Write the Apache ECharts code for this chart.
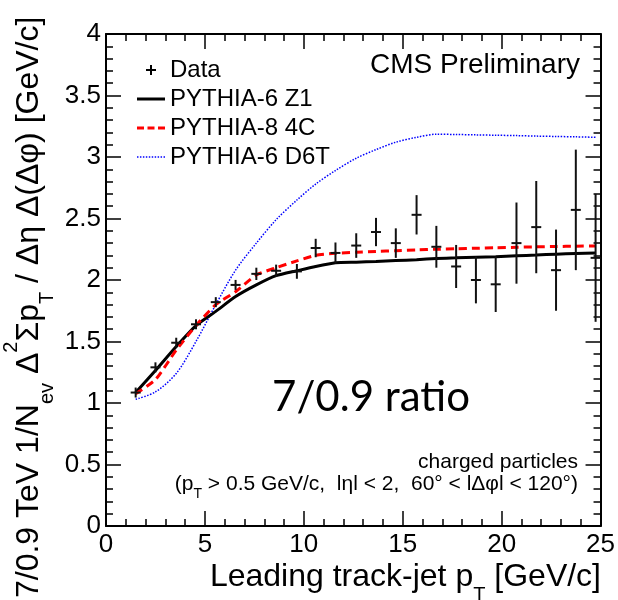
<!DOCTYPE html>
<html><head><meta charset="utf-8">
<script src="https://cdn.jsdelivr.net/npm/echarts@6/dist/echarts.min.js"></script>
<style>html,body{margin:0;padding:0;background:#fff}#c{width:618px;height:600px}</style>
</head><body><div id="c"></div>
<script>
// ---- data ----
const dataX   = [1.5, 2.5, 3.55, 4.55, 5.55, 6.55, 7.6, 8.6, 9.65, 10.6, 11.6, 12.65, 13.65, 14.65, 15.7, 16.7, 17.7, 18.7, 19.7, 20.75, 21.75, 22.75, 23.75, 24.75];
const dataY   = [1.085, 1.29, 1.49, 1.64, 1.82, 1.96, 2.05, 2.075, 2.07, 2.26, 2.22, 2.28, 2.39, 2.30, 2.53, 2.27, 2.11, 2.00, 1.965, 2.30, 2.43, 2.08, 2.57, 2.18];
const dataErr = [0.02, 0.025, 0.03, 0.03, 0.035, 0.04, 0.05, 0.05, 0.06, 0.075, 0.085, 0.10, 0.115, 0.12, 0.16, 0.17, 0.175, 0.19, 0.225, 0.33, 0.375, 0.33, 0.49, 0.52];
const z1Y     = [1.085, 1.265, 1.46, 1.63, 1.745, 1.865, 1.96, 2.035, 2.075, 2.11, 2.14, 2.145, 2.15, 2.158, 2.165, 2.175, 2.18, 2.185, 2.19, 2.197, 2.203, 2.21, 2.215, 2.22];
const c4Y     = [1.075, 1.19, 1.43, 1.63, 1.80, 1.905, 2.04, 2.10, 2.155, 2.20, 2.217, 2.225, 2.232, 2.238, 2.244, 2.25, 2.254, 2.258, 2.262, 2.266, 2.27, 2.272, 2.275, 2.277];
const d6tY    = [1.03, 1.09, 1.24, 1.50, 1.80, 2.08, 2.30, 2.49, 2.65, 2.78, 2.89, 2.99, 3.06, 3.12, 3.16, 3.185, 3.183, 3.18, 3.177, 3.174, 3.17, 3.167, 3.164, 3.16];
const seriesNames = ['Data', 'PYTHIA-6 Z1', 'PYTHIA-8 4C', 'PYTHIA-6 D6T'];

const FONT = '"Liberation Sans", Arial, Helvetica, sans-serif';
const chart = echarts.init(document.getElementById('c'), null, {renderer: 'canvas'});

const axisCommon = {
  axisLine: {show: true, onZero: false, lineStyle: {color: '#000', width: 2}},
  axisTick: {show: true, inside: true, length: 15, lineStyle: {color: '#000', width: 1.5}},
  minorTick: {show: true, splitNumber: 5, length: 7, lineStyle: {color: '#000', width: 1.5}},
  splitLine: {show: false},
  minorSplitLine: {show: false}
};

function renderErr(params, api) {
  const x = api.value(0), y = api.value(1), e = api.value(2);
  const c = api.coord([x, y]);
  const t = api.coord([x, y + e]);
  const b = api.coord([x, y - e]);
  const y1 = Math.min(t[1], c[1] - 5), y2 = Math.max(b[1], c[1] + 5);
  return {type: 'group', children: [
    {type: 'line', shape: {x1: c[0], y1: y1, x2: c[0], y2: y2}, style: {stroke: '#111', lineWidth: 2}},
    {type: 'line', shape: {x1: c[0] - 5, y1: c[1], x2: c[0] + 5, y2: c[1]}, style: {stroke: '#111', lineWidth: 2}}
  ]};
}

// legend icons (filled paths, aspect kept)
const iconPlus = 'path://M4,0h2v10h-2zM0,4h10v2h-10z';
const iconSolid = 'path://M0,0h28v3h-28z';
const iconDash = 'path://M0,0h7v3h-7zM10.5,0h7v3h-7zM21,0h7v3h-7z';
let dots = '';
for (let k = 0; k < 10; k++) dots += 'M' + (k * 3) + ',0h1.5v1.5h-1.5z';
const iconDot = 'path://' + dots;

const richMain = {
  m: {fontFamily: FONT, fontSize: 32, lineHeight: 56, color: '#000'},
  s: {fontFamily: FONT, fontSize: 20, lineHeight: 24, verticalAlign: 'bottom', color: '#000'},
  p: {fontFamily: FONT, fontSize: 20, lineHeight: 10, verticalAlign: 'top', color: '#000'}
};

const option = {
  animation: false,
  backgroundColor: '#fff',
  grid: {left: 106, right: 17, top: 34, bottom: 74, containLabel: false},
  xAxis: [
    Object.assign({type: 'value', min: 0, max: 25, interval: 5, position: 'bottom',
      axisLabel: {fontFamily: FONT, fontSize: 26, color: '#000', margin: 6, showMaxLabel: true, showMinLabel: true}}, axisCommon),
    Object.assign({type: 'value', min: 0, max: 25, interval: 5, position: 'top',
      axisLabel: {show: false}}, axisCommon)
  ],
  yAxis: [
    Object.assign({type: 'value', min: 0, max: 4, interval: 0.5, position: 'left',
      axisLabel: {fontFamily: FONT, fontSize: 26, color: '#000', margin: 5, showMaxLabel: true, showMinLabel: true}}, axisCommon),
    Object.assign({type: 'value', min: 0, max: 4, interval: 0.5, position: 'right',
      axisLabel: {show: false}}, axisCommon)
  ],
  legend: {
    orient: 'vertical', left: 137, top: 58, padding: 0,
    itemWidth: 28, itemHeight: 10, itemGap: 5, selectedMode: false,
    textStyle: {fontFamily: FONT, fontSize: 24, color: '#000', lineHeight: 24},
    data: [
      {name: seriesNames[0], icon: iconPlus, itemStyle: {color: '#000'}},
      {name: seriesNames[1], icon: iconSolid, itemStyle: {color: '#000'}},
      {name: seriesNames[2], icon: iconDash, itemStyle: {color: '#ff0000'}},
      {name: seriesNames[3], icon: iconDot, itemStyle: {color: '#0000ff'}}
    ]
  },
  series: [
    {type: 'line', name: seriesNames[3], data: dataX.map((x, i) => [x, d6tY[i]]), symbol: 'none', smooth: 0.3,
      itemStyle: {color: '#0000ff'}, lineStyle: {color: '#0000ff', width: 1.5, type: [1.5, 1.5]}, z: 2},
    {type: 'line', name: seriesNames[1], data: dataX.map((x, i) => [x, z1Y[i]]), symbol: 'none', smooth: 0.2,
      itemStyle: {color: '#000'}, lineStyle: {color: '#000', width: 3}, z: 3},
    {type: 'line', name: seriesNames[2], data: dataX.map((x, i) => [x, c4Y[i]]), symbol: 'none', smooth: 0.2,
      itemStyle: {color: '#ff0000'}, lineStyle: {color: '#ff0000', width: 3, type: [8, 5]}, z: 4},
    {type: 'custom', name: seriesNames[0], data: dataX.map((x, i) => [x, dataY[i], dataErr[i]]),
      renderItem: renderErr, encode: {x: 0, y: 1}, itemStyle: {color: '#000'}, z: 5}
  ],
  graphic: [
    {type: 'text', x: 580, y: 65, style: {text: 'CMS Preliminary', font: '28px ' + FONT, fill: '#000', align: 'right', verticalAlign: 'middle'}},
    {type: 'text', x: 371, y: 397, style: {text: '7/0.9 ratio', font: '42px Lato, "Open Sans", sans-serif', fill: '#000', align: 'center', verticalAlign: 'middle'}},
    {type: 'text', x: 578, y: 462, style: {text: 'charged particles', font: '21px ' + FONT, fill: '#000', align: 'right', verticalAlign: 'middle'}},
    {type: 'text', x: 578, y: 501, style: {
      text: '{m|(p}{s|T}{m| > 0.5 GeV/c,  lηl < 2,  60° < lΔφl < 120°)}', align: 'right', verticalAlign: 'bottom',
      rich: {m: {fontFamily: FONT, fontSize: 21, lineHeight: 34, fill: '#000'}, s: {fontFamily: FONT, fontSize: 14, lineHeight: 12, verticalAlign: 'bottom', fill: '#000'}}}},
    {type: 'text', x: 601, y: 605, style: {
      text: '{m|Leading track-jet p}{s|T}{m| [GeV/c]}', align: 'right', verticalAlign: 'bottom', rich: richMain}},
    {type: 'text', x: 57, y: 598, rotation: Math.PI / 2, style: {
      text: '{m|7/0.9 TeV 1/N}{s|ev}{m| Δ}{p|2}{m|Σp}{s|T}{m| / Δη Δ(Δφ) [GeV/c]}', align: 'left', verticalAlign: 'bottom', rich: richMain}}
  ]
};
chart.setOption(option);
</script>
</body></html>
